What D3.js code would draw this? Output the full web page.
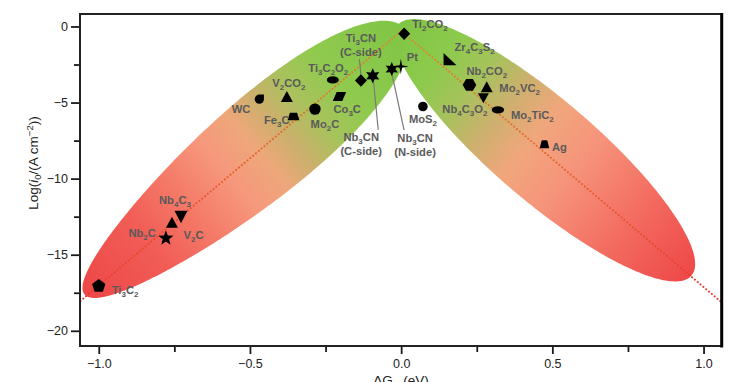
<!DOCTYPE html>
<html><head><meta charset="utf-8">
<script src="https://cdn.jsdelivr.net/npm/d3@7"></script>
<style>body{margin:0;background:#fff;} svg{display:block;font-family:"Liberation Sans",Arial,sans-serif;}</style>
</head><body><svg id="c" width="754" height="382"></svg>
<script>
// ---------- data ----------
const names = ["Ti3C2","Nb2C","V2C","Nb4C3","WC","V2CO2","Fe3C","Mo2C","Ti3C2O2","Co3C",
  "Ti3CN|(C-side)","Nb3CN|(C-side)","Nb3CN|(N-side)","Pt","Ti2CO2","MoS2","Zr4C3S2","Nb2CO2",
  "Mo2VC2","Nb4C3O2","Mo2TiC2","Ag"];
const dGH = [-1.00,-0.778,-0.758,-0.728,-0.469,-0.378,-0.356,-0.285,-0.226,-0.204,
  -0.133,-0.094,-0.031,-0.001,0.010,0.072,0.160,0.226,0.283,0.272,0.320,0.474];
const logI0 = [-17.06,-13.92,-12.90,-12.50,-4.78,-4.64,-5.92,-5.43,-3.51,-4.60,
  -3.55,-3.24,-2.80,-2.63,-0.48,-5.26,-2.15,-3.84,-3.99,-4.71,-5.48,-7.74];
const xTicks = [-1.0,-0.5,0.0,0.5,1.0];
const xTickLabels = ["\u22121.0","\u22120.5","0.0","0.5","1.0"];
const xMinor = [-0.75,-0.25,0.25,0.75];
const yTicks = [0,-5,-10,-15,-20];
const yTickLabels = ["0","\u22125","\u221210","\u221215","\u221220"];
const yMinor = [-2.5,-7.5,-12.5,-17.5];
const volcanoLeft = [[-1.07,-18.2],[0,-0.3]];
const volcanoRight = [[0,-0.3],[1.07,-18.3]];
const lobeLeft = [[-1.047,-17.61],[0.011,-0.125]];
const lobeRight = [[-0.011,0.10],[0.960,-16.37]];

// ---------- styles ----------
const shapes = ["pent","star5","triUp","triDown","drop","triUp","trap","circle","ellipse","para",
  "diamond","star6","star6s","star4","diamond","circleS","rtri","hex","triUp","triDownS","ellipseS","trapS"];
const labelPos = [[13,8,"start"],[-10,-1.5,"end"],[11.6,16.5,"start"],[-6,-13,"middle"],[-9,13.5,"end"],
  [2,-10.5,"middle"],[-4,7.5,"end"],[10,19,"middle"],[-4.5,-7.5,"middle"],[-6,16.5,"start"],
  [0,-38.5,"middle"],[-11.5,65,"middle"],[23.3,72.7,"middle"],[6,-5.5,"start"],[8,-6,"start"],
  [0,16,"middle"],[5,-8,"start"],[-3,-10,"start"],[12.6,5,"start"],[4,15,"end"],[13,9,"start"],[7.5,7,"start"]];
const leaders = {10:[[-1.5,-21.5],[0,-5]], 11:[[0.5,3],[5.5,54]], 12:[[0,4],[12.3,61]]};

const svg = d3.select("#c");
const x = d3.scaleLinear().domain([-1.062,1.06]).range([80,721.7]);
const y = d3.scaleLinear().domain([0.82,-21.0]).range([14,346]);
const defs = svg.append("defs");

function lobe(tips, halfW, taper, id, stops){
  const p = tips.map(d=>[x(d[0]),y(d[1])]);
  const cx=(p[0][0]+p[1][0])/2, cy=(p[0][1]+p[1][1])/2;
  const a=Math.hypot(p[1][0]-p[0][0],p[1][1]-p[0][1])/2;
  const ang=Math.atan2(p[1][1]-p[0][1],p[1][0]-p[0][0])*180/Math.PI;
  const g=defs.append("linearGradient").attr("id",id).attr("gradientUnits","userSpaceOnUse")
    .attr("x1",-a).attr("y1",0).attr("x2",a).attr("y2",0);
  stops.forEach(s=>g.append("stop").attr("offset",s[0]).attr("stop-color",s[1]));
  const up=[], dn=[];
  for(let i=0;i<=180;i++){
    const t=Math.PI*i/180, s=-Math.cos(t);
    const h=halfW*Math.sin(t)*(1+taper*s);
    up.push([a*s,-h]); dn.push([a*s,h]);
  }
  const pts=up.concat(dn.reverse());
  svg.append("path").attr("d",d3.line().curve(d3.curveLinearClosed)(pts))
    .attr("transform",`translate(${cx},${cy}) rotate(${ang})`).attr("fill",`url(#${id})`);
}
lobe(lobeLeft,50,0.2,"gL",[[0,"#ee4747"],[0.2,"#f15d57"],[0.32,"#f47866"],[0.45,"#f6987c"],[0.54,"#eea77a"],[0.62,"#cbb06c"],[0.7,"#a8c25c"],[0.8,"#8fca4e"],[1,"#80c545"]]);
lobe(lobeRight,51,0,"gR",[[0,"#80c545"],[0.14,"#8cca4c"],[0.25,"#a6c25c"],[0.35,"#cdb06e"],[0.46,"#f1a67c"],[0.6,"#f6927a"],[0.8,"#f36a5f"],[1,"#ee4848"]]);

defs.append("clipPath").attr("id","plotclip").append("rect").attr("x",80).attr("y",14).attr("width",641.7).attr("height",332);
function vline(pts,id){
  const p=pts.map(d=>[x(d[0]),y(d[1])]);
  const lo = p[0][1]>p[1][1]?p[0]:p[1], hi = p[0][1]>p[1][1]?p[1]:p[0];
  const g=defs.append("linearGradient").attr("id",id).attr("gradientUnits","userSpaceOnUse")
    .attr("x1",lo[0]).attr("y1",lo[1]).attr("x2",hi[0]).attr("y2",hi[1]);
  [[0,"#e4392a"],[0.5,"#e6602e"],[1,"#dc8a2c"]].forEach(s=>g.append("stop").attr("offset",s[0]).attr("stop-color",s[1]));
  svg.append("path").attr("clip-path","url(#plotclip)").attr("d",d3.line()(p))
    .attr("stroke",`url(#${id})`).attr("stroke-width",2).attr("stroke-linecap","round")
    .attr("stroke-dasharray","0.1 3.6").attr("fill","none");
}
vline(volcanoLeft,"lL"); vline(volcanoRight,"lR");

// ---------- axes ----------
const ax = svg.append("g").attr("transform","translate(0,346)")
  .call(d3.axisBottom(x).tickValues(xTicks).tickFormat((d,i)=>xTickLabels[i]).tickSize(8).tickPadding(5).tickSizeOuter(0));
const axm = svg.append("g").attr("transform","translate(0,346)")
  .call(d3.axisBottom(x).tickValues(xMinor).tickFormat("").tickSize(6).tickSizeOuter(0));
const ay = svg.append("g").attr("transform","translate(80,0)")
  .call(d3.axisLeft(y).tickValues(yTicks).tickFormat((d,i)=>yTickLabels[i]).tickSize(9).tickPadding(3).tickSizeOuter(0));
const aym = svg.append("g").attr("transform","translate(80,0)")
  .call(d3.axisLeft(y).tickValues(yMinor).tickFormat("").tickSize(6).tickSizeOuter(0));
[ax,axm,ay,aym].forEach(g=>{g.select(".domain").remove();
  g.selectAll("line").attr("stroke","#1a1a1a").attr("stroke-width",1.8);
  g.selectAll("text").attr("font-size",12.5).attr("fill","#222").attr("font-family","Liberation Sans, Arial, sans-serif");});

svg.append("path").attr("d","M80,14H721.7M80,13V347M79,346H723").attr("stroke","#222").attr("stroke-width",2).attr("fill","none");
svg.append("line").attr("x1",721.7).attr("x2",721.7).attr("y1",13).attr("y2",347.5).attr("stroke","#000").attr("stroke-width",3);

const yt = svg.append("text").attr("transform","translate(38,163) rotate(-90)").attr("text-anchor","middle")
  .attr("font-size",13.5).attr("fill","#222");
yt.append("tspan").text("Log(");
yt.append("tspan").attr("font-style","italic").text("i");
yt.append("tspan").attr("font-size",9.5).attr("dy",3).text("0");
yt.append("tspan").attr("dy",-3).text("/(A cm");
yt.append("tspan").attr("font-size",9.5).attr("dy",-5).text("\u22122");
yt.append("tspan").attr("dy",5).text("))");
const xt = svg.append("text").attr("x",401).attr("y",385).attr("text-anchor","middle").attr("font-size",13.5).attr("fill","#222");
xt.append("tspan").text("\u0394G");
xt.append("tspan").attr("font-size",9.5).attr("dy",3).text("H");
xt.append("tspan").attr("dy",-3).text(" (eV)");

// ---------- markers ----------
function poly(pts){return "M"+pts.map(p=>p.join(",")).join("L")+"Z";}
function star(n,R,r,rot){const pts=[];for(let i=0;i<2*n;i++){const a=rot+i*Math.PI/n;const rr=i%2?r:R;pts.push([rr*Math.sin(a),-rr*Math.cos(a)]);}return poly(pts);}
function ngon(n,R,rot){const pts=[];for(let i=0;i<n;i++){const a=rot+i*2*Math.PI/n;pts.push([R*Math.sin(a),-R*Math.cos(a)]);}return poly(pts);}
const shapePath = {
  pent: ngon(5,7,0),
  star5: star(5,8,3.3,0),
  triUp: poly([[-6,5],[6,5],[0,-6]]),
  triDown: poly([[-6.5,-6],[6.5,-6],[0,6.5]]),
  triDownS: poly([[-5.5,-5],[5.5,-5],[0,5]]),
  drop: "M0,-4.6L4.6,-4.6L4.6,0A4.6,4.6 0 1 1 0,-4.6Z",
  trap: poly([[-5.9,3.7],[5.9,3.7],[3.6,-3.7],[-3.6,-3.7]]),
  trapS: "M-4.7,3.9L4.7,3.9L3.2,-2.6Q3,-3.9 1.5,-3.9L-1.5,-3.9Q-3,-3.9 -3.2,-2.6Z",
  circle: "M-5.7,0A5.7,5.7 0 1 1 5.7,0A5.7,5.7 0 1 1 -5.7,0Z",
  circleS: "M-4.8,0A4.8,4.8 0 1 1 4.8,0A4.8,4.8 0 1 1 -4.8,0Z",
  ellipse: "M-6,0A6,3.7 0 1 1 6,0A6,3.7 0 1 1 -6,0Z",
  ellipseS: "M-6.2,0A6.2,3.7 0 1 1 6.2,0A6.2,3.7 0 1 1 -6.2,0Z",
  para: poly([[-2.8,-4.5],[6.7,-4.5],[2.8,4.5],[-6.7,4.5]]),
  diamond: poly([[0,-6.2],[6,0],[0,6.2],[-6,0]]),
  star6: star(6,7.6,3.9,0),
  star6s: star(6,7,3.6,0),
  star4: star(4,7.8,1.7,0),
  rtri: poly([[-6,-6.3],[-6,6],[7,6]]),
  hex: ngon(6,6.8,Math.PI/2)
};
Object.keys(leaders).forEach(k=>{
  const i=+k, L=leaders[k];
  svg.append("line").attr("x1",x(dGH[i])+L[0][0]).attr("y1",y(logI0[i])+L[0][1])
    .attr("x2",x(dGH[i])+L[1][0]).attr("y2",y(logI0[i])+L[1][1]).attr("stroke","#7a7a7a").attr("stroke-width",1.2);
});
svg.append("g").selectAll("path").data(names).join("path")
  .attr("transform",(d,i)=>`translate(${x(dGH[i])},${y(logI0[i])})`)
  .attr("d",(d,i)=>shapePath[shapes[i]]).attr("fill","#000");

// ---------- labels ----------
function formula(t, str){
  const parts = str.split(/(\d+)/).filter(s=>s.length);
  let sub=false;
  parts.forEach(p=>{
    const isD=/^\d+$/.test(p);
    const ts=t.append("tspan").text(p);
    if(isD){ts.attr("font-size",8).attr("dy",3);sub=true;}
    else if(sub){ts.attr("dy",-3);sub=false;}
  });
}
names.forEach((n,i)=>{
  const [dx,dy,anc]=labelPos[i];
  n.split("|").forEach((line,j)=>{
    const t=svg.append("text").attr("x",x(dGH[i])+dx).attr("y",y(logI0[i])+dy+j*14.5)
      .attr("text-anchor",anc).attr("font-size",11.2).attr("font-weight","bold").attr("fill","#5a5a5a");
    formula(t,line);
  });
});
</script></body></html>
